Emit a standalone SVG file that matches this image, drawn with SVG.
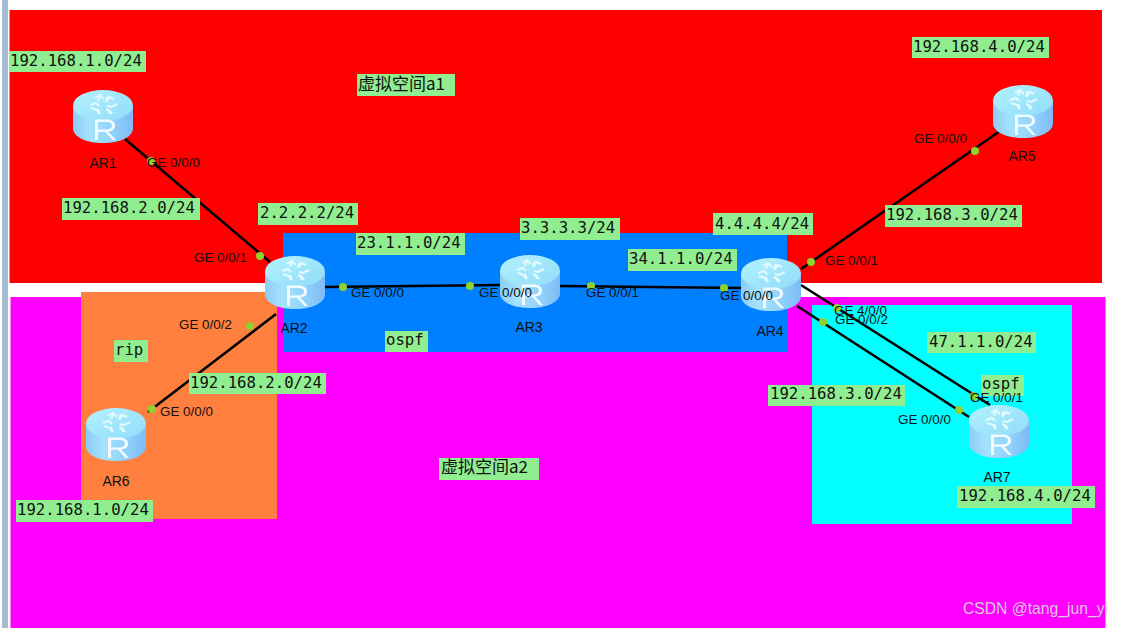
<svg xmlns="http://www.w3.org/2000/svg" width="1124" height="628" viewBox="0 0 1124 628">
<style>
.lb{fill:#90ee90}
.t{font-family:"DejaVu Sans Mono","Liberation Mono",monospace;font-size:15.65px;fill:#111}
.c{font-family:"Noto Sans CJK SC","DejaVu Sans Mono",sans-serif;font-size:17px;fill:#111}
.i{font-family:"Liberation Sans",Arial,sans-serif;font-size:13.4px;fill:#111}
.n{font-family:"Liberation Sans",Arial,sans-serif;font-size:14px;fill:#111;text-anchor:middle}
.l{stroke:#000;stroke-width:2.6;fill:none}
.d{fill:#8fd12f}
</style>
<defs>
<linearGradient id="side" x1="0" x2="1" y1="0" y2="0"><stop offset="0" stop-color="#8ccdf6"/><stop offset=".3" stop-color="#a5e2fb"/><stop offset=".7" stop-color="#8fd0fb"/><stop offset="1" stop-color="#7fbaf5"/></linearGradient>
<linearGradient id="top" x1="0" x2="1" y1="0" y2="1"><stop offset="0" stop-color="#b4f2fd"/><stop offset="1" stop-color="#8fdcf9"/></linearGradient>
<g id="router">
<path d="M0 15V38C0 47 13 53 30 53S60 47 60 38V15Z" fill="url(#side)"/>
<ellipse cx="30" cy="15.5" rx="30" ry="15.5" fill="url(#top)"/>
<g fill="none" stroke="#e4faff" stroke-width="2">
<path d="M27 6L25 11M35 6L33 11M27 24L25 19M37 24L35 19"/>
<path d="M22 8L27 5L31 9M33 12L37 7L41 9M17 15L23 13L26 16M34 16L38 17L44 14M18 18L24 20L26 24M33 19L37 21L39 24"/>
</g>
<path d="M22 50V29.500H33C39 29.500 42 32 42 35.500S40 41 35 41.500L43 50H39.500L32 41.800H25V50ZM25 32V39.500H33C37 39.500 39 38 39 35.500S37 32 33 32Z" fill="#f2fbff"/>
</g>
</defs>
<rect width="1124" height="628" fill="#fff"/>
<rect x="2" y="0" width="6" height="628" fill="#a6bcd3"/>
<g id="areas">
<rect x="9.500" y="10" width="1092.500" height="273" fill="#f00"/>
<rect x="10.500" y="297" width="1095" height="331" fill="#f0f"/>
<rect x="81" y="292" width="196" height="227" fill="#ff7f3f"/>
<rect x="283" y="233" width="504" height="119" fill="#007fff"/>
<rect x="812" y="305" width="260" height="219" fill="#0ff"/>
</g>
<g id="connectors">
<path class="l" d="M125 139L270 262"/>
<path class="l" d="M148 412L276 314"/>
<path class="l" d="M325 287L500 285"/>
<path class="l" d="M560 286L741 288"/>
<path class="l" d="M801 269L1000 131"/>
<path class="l" d="M801 285L990 405"/>
<path class="l" d="M797 306L969 417"/>
</g>
<g id="ar1"><use href="#router" x="73" y="90"/><text class="n" x="103" y="168">AR1</text></g>
<g id="ar2"><use href="#router" x="265" y="256"/><text class="n" x="294" y="333">AR2</text></g>
<g id="ar3"><use href="#router" x="500" y="255"/><text class="n" x="529" y="332">AR3</text></g>
<g id="ar4"><use href="#router" x="741" y="258"/><text class="n" x="770" y="336">AR4</text></g>
<g id="ar5"><use href="#router" x="993" y="85"/><text class="n" x="1022" y="161">AR5</text></g>
<g id="ar6"><use href="#router" x="86" y="408"/><text class="n" x="116" y="486">AR6</text></g>
<g id="ar7"><use href="#router" x="969" y="405"/><text class="n" x="997" y="482">AR7</text></g>
<g id="labels">
<rect class="lb" x="9" y="51" width="137" height="21"/><text class="t" x="10" y="66">192.168.1.0/24</text>
<rect class="lb" x="357" y="74" width="98" height="22"/><text class="c" x="358" y="90">虚拟空间a1</text>
<rect class="lb" x="912" y="37" width="137" height="21"/><text class="t" x="913" y="52">192.168.4.0/24</text>
<rect class="lb" x="62" y="198" width="138" height="22"/><text class="t" x="63" y="213">192.168.2.0/24</text>
<rect class="lb" x="258" y="203" width="100" height="22"/><text class="t" x="260" y="218">2.2.2.2/24</text>
<rect class="lb" x="885" y="205" width="137" height="22"/><text class="t" x="886" y="220">192.168.3.0/24</text>
<rect class="lb" x="356" y="233" width="109" height="22"/><text class="t" x="357" y="248">23.1.1.0/24</text>
<rect class="lb" x="520" y="218" width="100" height="22"/><text class="t" x="521" y="233">3.3.3.3/24</text>
<rect class="lb" x="713" y="213" width="100" height="22"/><text class="t" x="715" y="229">4.4.4.4/24</text>
<rect class="lb" x="628" y="249" width="109" height="22"/><text class="t" x="629" y="264">34.1.1.0/24</text>
<rect class="lb" x="385" y="331" width="43" height="21"/><text class="t" x="386" y="345">ospf</text>
<rect class="lb" x="114" y="340" width="34" height="22"/><text class="t" x="115" y="355">rip</text>
<rect class="lb" x="189" y="373" width="137" height="21"/><text class="t" x="190" y="388">192.168.2.0/24</text>
<rect class="lb" x="927" y="332" width="109" height="21"/><text class="t" x="929" y="347">47.1.1.0/24</text>
<rect class="lb" x="768" y="385" width="137" height="21"/><text class="t" x="770" y="399">192.168.3.0/24</text>
<rect class="lb" x="981" y="375" width="43" height="21"/><text class="t" x="982" y="389">ospf</text>
<rect class="lb" x="439" y="458" width="100" height="22"/><text class="c" x="441" y="473">虚拟空间a2</text>
<rect class="lb" x="957" y="486" width="138" height="22"/><text class="t" x="959" y="501">192.168.4.0/24</text>
<rect class="lb" x="16" y="500" width="137" height="22"/><text class="t" x="17" y="515">192.168.1.0/24</text>
</g>
<g id="ports">
<circle class="d" cx="151" cy="161" r="4"/><circle class="d" cx="260" cy="256" r="4"/>
<circle class="d" cx="250" cy="326" r="4"/><circle class="d" cx="152" cy="409" r="4"/>
<circle class="d" cx="343" cy="287" r="4"/><circle class="d" cx="470" cy="286" r="4"/>
<circle class="d" cx="591" cy="286" r="4"/><circle class="d" cx="724" cy="288" r="4"/>
<circle class="d" cx="811" cy="262" r="4"/><circle class="d" cx="975" cy="151" r="4"/>
<circle class="d" cx="837" cy="308" r="4"/><circle class="d" cx="823" cy="322" r="4"/>
<circle class="d" cx="974" cy="396" r="4"/><circle class="d" cx="959" cy="410" r="4"/>
</g>
<g id="port-labels">
<text class="i" x="147" y="167">GE 0/0/0</text>
<text class="i" x="194" y="262">GE 0/0/1</text>
<text class="i" x="179" y="329">GE 0/0/2</text>
<text class="i" x="160" y="416">GE 0/0/0</text>
<text class="i" x="351" y="297">GE 0/0/0</text>
<text class="i" x="479" y="297">GE 0/0/0</text>
<text class="i" x="586" y="297">GE 0/0/1</text>
<text class="i" x="720" y="300">GE 0/0/0</text>
<text class="i" x="825" y="265">GE 0/0/1</text>
<text class="i" x="914" y="143">GE 0/0/0</text>
<text class="i" x="834" y="315">GE 4/0/0</text>
<text class="i" x="835" y="324">GE 0/0/2</text>
<text class="i" x="970" y="402">GE 0/0/1</text>
<text class="i" x="898" y="424">GE 0/0/0</text>
</g>
<text x="963" y="614" font-family="'Liberation Sans',Arial,sans-serif" font-size="15.700" fill="#dcc8dc">CSDN @tang_jun_yi</text>
</svg>
